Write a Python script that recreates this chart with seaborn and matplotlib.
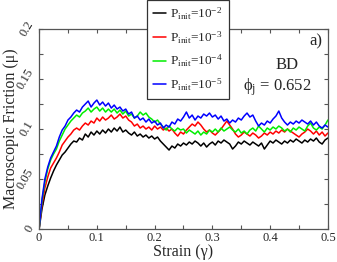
# Macroscopic friction vs strain for different initial pressures (BD, phi_j = 0.652)

import numpy as np
import pandas as pd
import seaborn as sns
import matplotlib.pyplot as plt
from matplotlib.ticker import MultipleLocator, FuncFormatter

# strain grid (step 0.005)
strain = np.round(np.arange(101) * 0.005, 3)

p_labels = [r"$\mathrm{P_{init}}$=10$^{-2}$", r"$\mathrm{P_{init}}$=10$^{-3}$",
            r"$\mathrm{P_{init}}$=10$^{-4}$", r"$\mathrm{P_{init}}$=10$^{-5}$"]
line_colors = ["#000000", "#ff0000", "#00ee00", "#0000ff"]

mu_p2 = [0.000, 0.020, 0.034, 0.043, 0.051, 0.058, 0.064, 0.069, 0.074, 0.077,
         0.081, 0.085, 0.088, 0.087, 0.091, 0.089, 0.095, 0.092, 0.097, 0.094,
         0.098, 0.095, 0.099, 0.096, 0.100, 0.097, 0.101, 0.098, 0.102, 0.097,
         0.099, 0.096, 0.094, 0.097, 0.093, 0.095, 0.092, 0.094, 0.091, 0.093,
         0.090, 0.092, 0.088, 0.085, 0.082, 0.079, 0.083, 0.081, 0.085, 0.083,
         0.086, 0.084, 0.087, 0.085, 0.088, 0.086, 0.083, 0.086, 0.082, 0.085,
         0.087, 0.084, 0.088, 0.086, 0.089, 0.087, 0.085, 0.080, 0.083, 0.087,
         0.085, 0.088, 0.086, 0.084, 0.087, 0.085, 0.083, 0.086, 0.080, 0.084,
         0.088, 0.086, 0.089, 0.087, 0.085, 0.088, 0.086, 0.089, 0.087, 0.090,
         0.088, 0.086, 0.089, 0.087, 0.090, 0.088, 0.091, 0.087, 0.085, 0.089,
         0.091]

mu_p3 = [0.000, 0.024, 0.041, 0.052, 0.061, 0.066, 0.071, 0.077, 0.084, 0.088,
         0.092, 0.095, 0.099, 0.101, 0.099, 0.103, 0.106, 0.104, 0.108, 0.106,
         0.111, 0.108, 0.112, 0.109, 0.111, 0.114, 0.110, 0.112, 0.115, 0.111,
         0.113, 0.109, 0.107, 0.103, 0.105, 0.101, 0.103, 0.100, 0.102, 0.099,
         0.103, 0.100, 0.102, 0.099, 0.101, 0.098, 0.100, 0.096, 0.093, 0.097,
         0.095, 0.099, 0.102, 0.105, 0.103, 0.107, 0.104, 0.100, 0.097, 0.099,
         0.096, 0.094, 0.097, 0.100, 0.104, 0.108, 0.104, 0.100, 0.095, 0.092,
         0.094, 0.097, 0.095, 0.093, 0.096, 0.094, 0.091, 0.093, 0.096, 0.094,
         0.097, 0.095, 0.098, 0.096, 0.099, 0.097, 0.100, 0.098, 0.096, 0.094,
         0.092, 0.095, 0.097, 0.100, 0.098, 0.095, 0.098, 0.094, 0.097, 0.093,
         0.096]

mu_p4 = [0.000, 0.028, 0.047, 0.060, 0.069, 0.075, 0.080, 0.088, 0.094, 0.100,
         0.104, 0.108, 0.111, 0.114, 0.112, 0.116, 0.118, 0.121, 0.117, 0.120,
         0.122, 0.118, 0.121, 0.117, 0.120, 0.117, 0.120, 0.116, 0.119, 0.115,
         0.118, 0.113, 0.115, 0.111, 0.113, 0.117, 0.114, 0.116, 0.112, 0.110,
         0.107, 0.109, 0.105, 0.102, 0.099, 0.103, 0.100, 0.098, 0.101, 0.099,
         0.100, 0.096, 0.099, 0.097, 0.095, 0.098, 0.094, 0.097, 0.095, 0.099,
         0.097, 0.100, 0.097, 0.101, 0.098, 0.100, 0.102, 0.099, 0.097, 0.100,
         0.096, 0.098, 0.095, 0.099, 0.101, 0.098, 0.103, 0.100, 0.097, 0.101,
         0.099, 0.102, 0.100, 0.103, 0.101, 0.098, 0.100, 0.097, 0.101, 0.099,
         0.102, 0.100, 0.098, 0.103, 0.106, 0.101, 0.099, 0.102, 0.100, 0.104,
         0.109]

mu_p5 = [0.000, 0.030, 0.050, 0.062, 0.071, 0.077, 0.083, 0.092, 0.099, 0.103,
         0.109, 0.112, 0.116, 0.119, 0.117, 0.122, 0.125, 0.128, 0.122, 0.126,
         0.129, 0.124, 0.127, 0.123, 0.126, 0.121, 0.124, 0.120, 0.122, 0.118,
         0.120, 0.115, 0.117, 0.111, 0.113, 0.109, 0.111, 0.107, 0.110, 0.106,
         0.108, 0.104, 0.106, 0.101, 0.104, 0.102, 0.107, 0.105, 0.110, 0.108,
         0.112, 0.117, 0.111, 0.114, 0.109, 0.113, 0.111, 0.115, 0.113, 0.116,
         0.112, 0.114, 0.110, 0.113, 0.108, 0.110, 0.106, 0.109, 0.107, 0.111,
         0.109, 0.113, 0.116, 0.112, 0.114, 0.108, 0.103, 0.106, 0.104, 0.108,
         0.106, 0.110, 0.113, 0.118, 0.111, 0.107, 0.104, 0.107, 0.105, 0.108,
         0.106, 0.109, 0.107, 0.105, 0.108, 0.104, 0.107, 0.103, 0.101, 0.104,
         0.102]

# long-form table for seaborn
df = pd.concat([
    pd.DataFrame({"strain": strain, "mu": mu, "P": lab})
    for mu, lab in zip([mu_p2, mu_p3, mu_p4, mu_p5], p_labels)
])

sns.set_style("ticks")
plt.rcParams["font.family"] = ["Liberation Serif", "DejaVu Serif"]
plt.rcParams["mathtext.fontset"] = "custom"
plt.rcParams["mathtext.rm"] = "Liberation Serif"
plt.rcParams["mathtext.it"] = "Liberation Serif:italic"

fig = plt.figure(figsize=(3.37, 2.62), dpi=100)
ax = fig.add_axes([0.116, 0.126, 0.857, 0.763])

sns.lineplot(data=df, x="strain", y="mu", hue="P", hue_order=p_labels,
             palette=line_colors, linewidth=1.1, ax=ax, legend=True)

ax.set_xlim(0, 0.5)
ax.set_ylim(0, 0.2)
ax.xaxis.set_major_locator(MultipleLocator(0.1))
ax.xaxis.set_minor_locator(MultipleLocator(0.05))
ax.yaxis.set_major_locator(MultipleLocator(0.05))
ax.yaxis.set_minor_locator(MultipleLocator(0.025))
fmt = FuncFormatter(lambda v, pos: "%g" % round(v, 3))
ax.xaxis.set_major_formatter(fmt)
ax.yaxis.set_major_formatter(fmt)
ax.tick_params(which="both", direction="in", top=True, right=True,
               length=3, width=0.8, color="#555555", labelsize=9, pad=2)
for lab in ax.get_yticklabels():
    lab.set_rotation(60)
    lab.set_va("center")
for sp in ax.spines.values():
    sp.set_color("#555555")
    sp.set_linewidth(0.9)

ax.set_xlabel("Strain (γ)", fontsize=11.5, labelpad=0)
ax.set_ylabel("Macroscopic Friction (μ)", fontsize=11.5, va="center")
ax.yaxis.set_label_coords(-0.098, 0.5)

ax.text(0.49, 0.188, "a)", fontsize=12, ha="right", va="center")
ax.text(0.429, 0.164, "BD", fontsize=12, ha="center", va="center")
ax.text(0.412, 0.142, r"ϕ$_\mathrm{j}$ = 0.652", fontsize=12, ha="center", va="center")

handles, labels = ax.get_legend_handles_labels()
ax.get_legend().remove()
leg = fig.legend(handles, labels, loc="lower left", bbox_to_anchor=(0.436, 0.622),
                 fontsize=9.5, frameon=True, fancybox=False, edgecolor="#333333",
                 framealpha=1, labelspacing=0.55, handlelength=1.0,
                 handletextpad=0.3, borderpad=0.45, borderaxespad=0)
leg.get_frame().set_linewidth(0.9)

fig.savefig("out.png", dpi=100)
